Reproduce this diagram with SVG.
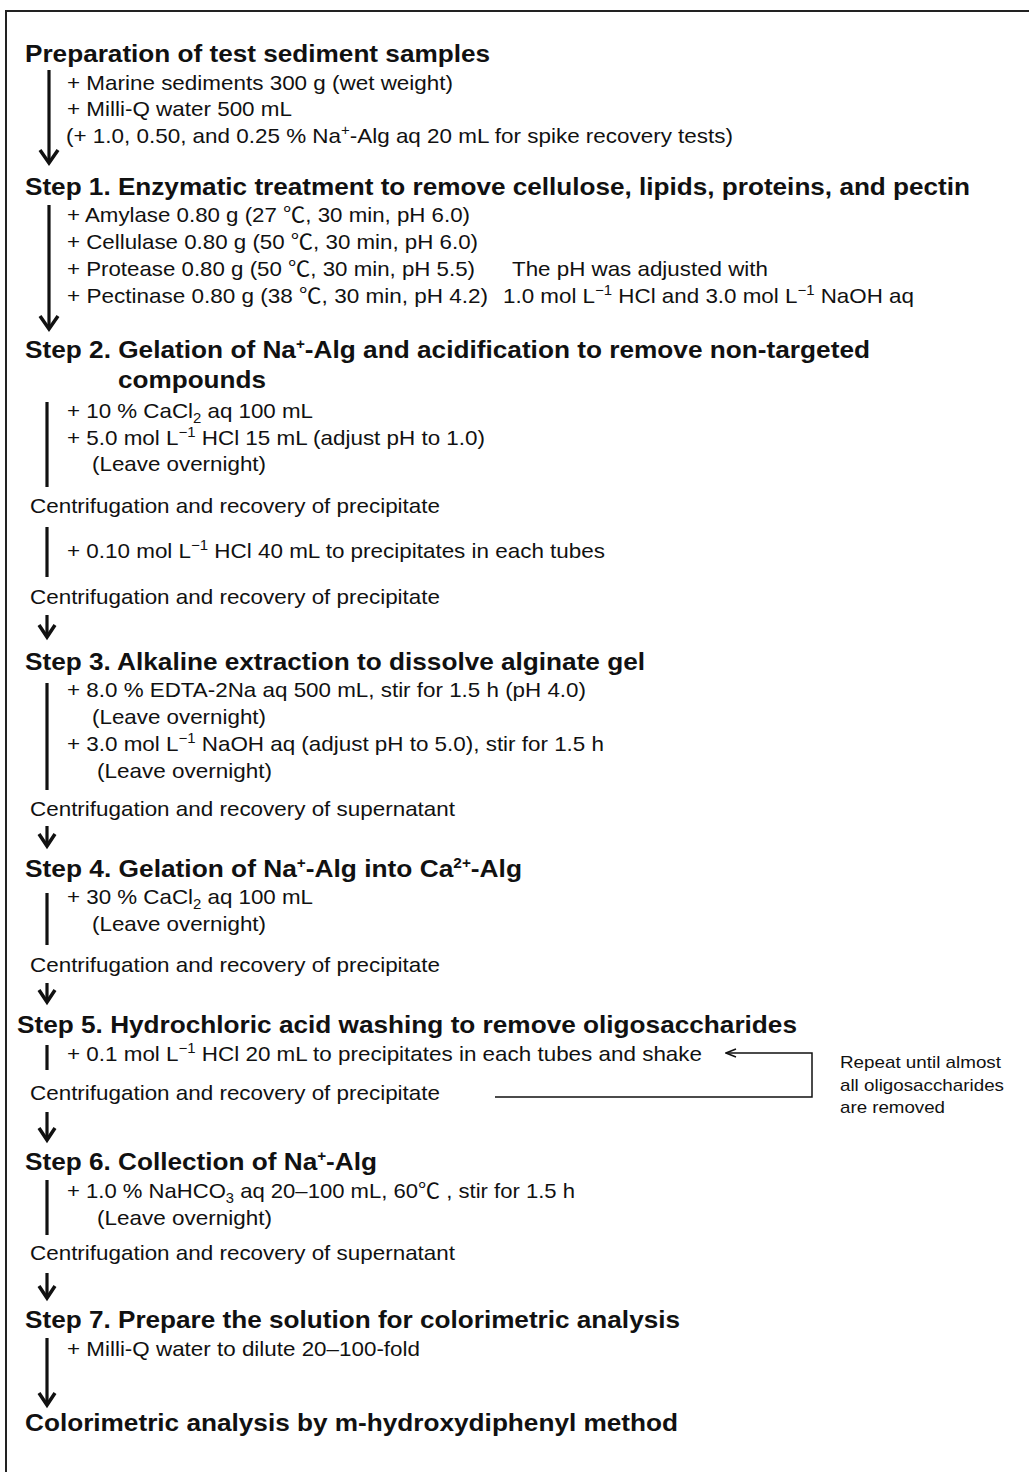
<svg xmlns="http://www.w3.org/2000/svg" width="1029" height="1472" viewBox="0 0 1029 1472">
<defs>
<style>
.h{font-family:"Liberation Sans",Arial,"Noto Sans CJK JP",sans-serif;font-weight:bold;font-size:24px;fill:#111}
.b{font-family:"Liberation Sans",Arial,"Noto Sans CJK JP",sans-serif;font-size:21px;fill:#111}
.n{font-family:"Liberation Sans",Arial,sans-serif;font-size:17px;fill:#111}
.sup{font-size:14px}
.bar{stroke:#111;stroke-width:3.2;fill:none}
.head{stroke:#111;stroke-width:3.5;fill:none;stroke-linejoin:miter;stroke-linecap:butt}
.thin{stroke:#111;stroke-width:1.5;fill:none}
</style>
<marker id="la" markerWidth="12" markerHeight="10" refX="11" refY="5" orient="auto" markerUnits="userSpaceOnUse">
<path d="M1,1 L11,5 L1,9" fill="none" stroke="#111" stroke-width="1.5"/>
</marker>
</defs>
<rect x="0" y="0" width="1029" height="1472" fill="#fff"/>
<rect x="6" y="11" width="1060" height="1500" fill="none" stroke="#222" stroke-width="2"/>

<g id="prep">
<text class="h" x="25" y="62" textLength="465" lengthAdjust="spacingAndGlyphs">Preparation of test sediment samples</text>
<text class="b" x="67" y="90" textLength="386" lengthAdjust="spacingAndGlyphs">+ Marine sediments 300 g (wet weight)</text>
<text class="b" x="67" y="116" textLength="225" lengthAdjust="spacingAndGlyphs">+ Milli-Q water 500 mL</text>
<text class="b" x="66" y="143" textLength="667" lengthAdjust="spacingAndGlyphs">(+ 1.0, 0.50, and 0.25 % Na<tspan class="sup" dy="-8">+</tspan><tspan dy="8">-Alg aq 20 mL for spike recovery tests)</tspan></text>
</g>

<g id="step1">
<text class="h" x="25" y="195" textLength="945" lengthAdjust="spacingAndGlyphs">Step 1. Enzymatic treatment to remove cellulose, lipids, proteins, and pectin</text>
<text class="b" x="67" y="222" textLength="403" lengthAdjust="spacingAndGlyphs">+ Amylase 0.80 g (27 ℃, 30 min, pH 6.0)</text>
<text class="b" x="67" y="249" textLength="411" lengthAdjust="spacingAndGlyphs">+ Cellulase 0.80 g (50 ℃, 30 min, pH 6.0)</text>
<text class="b" x="67" y="276" textLength="408" lengthAdjust="spacingAndGlyphs">+ Protease 0.80 g (50 ℃, 30 min, pH 5.5)</text>
<text class="b" x="67" y="303" textLength="421" lengthAdjust="spacingAndGlyphs">+ Pectinase 0.80 g (38 ℃, 30 min, pH 4.2)</text>
<text class="b" x="512" y="276" textLength="256" lengthAdjust="spacingAndGlyphs">The pH was adjusted with</text>
<text class="b" x="503" y="303" textLength="411" lengthAdjust="spacingAndGlyphs">1.0 mol L<tspan class="sup" dy="-8">−1</tspan><tspan dy="8"> HCl and 3.0 mol L</tspan><tspan class="sup" dy="-8">−1</tspan><tspan dy="8"> NaOH aq</tspan></text>
</g>

<g id="step2">
<text class="h" x="25" y="358" textLength="845" lengthAdjust="spacingAndGlyphs">Step 2. Gelation of Na<tspan class="sup" dy="-9">+</tspan><tspan dy="9">-Alg and acidification to remove non-targeted</tspan></text>
<text class="h" x="118" y="388" textLength="148" lengthAdjust="spacingAndGlyphs">compounds</text>
<text class="b" x="67" y="418" textLength="246" lengthAdjust="spacingAndGlyphs">+ 10 % CaCl<tspan class="sup" dy="5">2</tspan><tspan dy="-5"> aq 100 mL</tspan></text>
<text class="b" x="67" y="445" textLength="418" lengthAdjust="spacingAndGlyphs">+ 5.0 mol L<tspan class="sup" dy="-8">−1</tspan><tspan dy="8"> HCl 15 mL (adjust pH to 1.0)</tspan></text>
<text class="b" x="92" y="471" textLength="174" lengthAdjust="spacingAndGlyphs">(Leave overnight)</text>
<text class="b" x="30" y="513" textLength="410" lengthAdjust="spacingAndGlyphs">Centrifugation and recovery of precipitate</text>
<text class="b" x="67" y="558" textLength="538" lengthAdjust="spacingAndGlyphs">+ 0.10 mol L<tspan class="sup" dy="-8">−1</tspan><tspan dy="8"> HCl 40 mL to precipitates in each tubes</tspan></text>
<text class="b" x="30" y="604" textLength="410" lengthAdjust="spacingAndGlyphs">Centrifugation and recovery of precipitate</text>
</g>

<g id="step3">
<text class="h" x="25" y="670" textLength="620" lengthAdjust="spacingAndGlyphs">Step 3. Alkaline extraction to dissolve alginate gel</text>
<text class="b" x="67" y="697" textLength="519" lengthAdjust="spacingAndGlyphs">+ 8.0 % EDTA-2Na aq 500 mL, stir for 1.5 h (pH 4.0)</text>
<text class="b" x="92" y="724" textLength="174" lengthAdjust="spacingAndGlyphs">(Leave overnight)</text>
<text class="b" x="67" y="751" textLength="537" lengthAdjust="spacingAndGlyphs">+ 3.0 mol L<tspan class="sup" dy="-8">−1</tspan><tspan dy="8"> NaOH aq (adjust pH to 5.0), stir for 1.5 h</tspan></text>
<text class="b" x="97" y="778" textLength="175" lengthAdjust="spacingAndGlyphs">(Leave overnight)</text>
<text class="b" x="30" y="816" textLength="425" lengthAdjust="spacingAndGlyphs">Centrifugation and recovery of supernatant</text>
</g>

<g id="step4">
<text class="h" x="25" y="877" textLength="497" lengthAdjust="spacingAndGlyphs">Step 4. Gelation of Na<tspan class="sup" dy="-9">+</tspan><tspan dy="9">-Alg into Ca</tspan><tspan class="sup" dy="-9">2+</tspan><tspan dy="9">-Alg</tspan></text>
<text class="b" x="67" y="904" textLength="246" lengthAdjust="spacingAndGlyphs">+ 30 % CaCl<tspan class="sup" dy="5">2</tspan><tspan dy="-5"> aq 100 mL</tspan></text>
<text class="b" x="92" y="931" textLength="174" lengthAdjust="spacingAndGlyphs">(Leave overnight)</text>
<text class="b" x="30" y="972" textLength="410" lengthAdjust="spacingAndGlyphs">Centrifugation and recovery of precipitate</text>
</g>

<g id="step5">
<text class="h" x="17" y="1033" textLength="780" lengthAdjust="spacingAndGlyphs">Step 5. Hydrochloric acid washing to remove oligosaccharides</text>
<text class="b" x="67" y="1061" textLength="635" lengthAdjust="spacingAndGlyphs">+ 0.1 mol L<tspan class="sup" dy="-8">−1</tspan><tspan dy="8"> HCl 20 mL to precipitates in each tubes and shake</tspan></text>
<text class="b" x="30" y="1100" textLength="410" lengthAdjust="spacingAndGlyphs">Centrifugation and recovery of precipitate</text>
</g>

<g id="repeat-note">
<text class="n" x="840" y="1068" textLength="161" lengthAdjust="spacingAndGlyphs">Repeat until almost</text>
<text class="n" x="840" y="1091" textLength="164" lengthAdjust="spacingAndGlyphs">all oligosaccharides</text>
<text class="n" x="840" y="1113" textLength="105" lengthAdjust="spacingAndGlyphs">are removed</text>
</g>

<g id="step6">
<text class="h" x="25" y="1170" textLength="352" lengthAdjust="spacingAndGlyphs">Step 6. Collection of Na<tspan class="sup" dy="-9">+</tspan><tspan dy="9">-Alg</tspan></text>
<text class="b" x="67" y="1198" textLength="508" lengthAdjust="spacingAndGlyphs">+ 1.0 % NaHCO<tspan class="sup" dy="5">3</tspan><tspan dy="-5"> aq 20–100 mL, 60℃ , stir for 1.5 h</tspan></text>
<text class="b" x="97" y="1225" textLength="175" lengthAdjust="spacingAndGlyphs">(Leave overnight)</text>
<text class="b" x="30" y="1260" textLength="425" lengthAdjust="spacingAndGlyphs">Centrifugation and recovery of supernatant</text>
</g>

<g id="step7">
<text class="h" x="25" y="1328" textLength="655" lengthAdjust="spacingAndGlyphs">Step 7. Prepare the solution for colorimetric analysis</text>
<text class="b" x="67" y="1356" textLength="353" lengthAdjust="spacingAndGlyphs">+ Milli-Q water to dilute 20–100-fold</text>
</g>

<g id="final">
<text class="h" x="25" y="1431" textLength="653" lengthAdjust="spacingAndGlyphs">Colorimetric analysis by m-hydroxydiphenyl method</text>
</g>

<g id="connectors">
<line class="bar" x1="49" y1="70" x2="49" y2="162"/>
<polyline class="head" points="40,150 49,163 58,150"/>
<line class="bar" x1="49" y1="205" x2="49" y2="328"/>
<polyline class="head" points="40,316 49,329 58,316"/>
<line class="bar" x1="47" y1="402" x2="47" y2="487"/>
<line class="bar" x1="47" y1="527" x2="47" y2="577"/>
<line class="bar" x1="47" y1="615" x2="47" y2="636"/>
<polyline class="head" points="39,625 47,637 55,625"/>
<line class="bar" x1="47" y1="683" x2="47" y2="790"/>
<line class="bar" x1="47" y1="826" x2="47" y2="845"/>
<polyline class="head" points="39,834 47,846 55,834"/>
<line class="bar" x1="47" y1="893" x2="47" y2="945"/>
<line class="bar" x1="47" y1="983" x2="47" y2="1001"/>
<polyline class="head" points="39,990 47,1002 55,990"/>
<line class="bar" x1="47" y1="1045" x2="47" y2="1070"/>
<polyline class="thin" points="495,1097 812,1097 812,1053 726,1053" marker-end="url(#la)"/>
<line class="bar" x1="47" y1="1112" x2="47" y2="1139"/>
<polyline class="head" points="39,1128 47,1140 55,1128"/>
<line class="bar" x1="47" y1="1180" x2="47" y2="1235"/>
<line class="bar" x1="47" y1="1273" x2="47" y2="1297"/>
<polyline class="head" points="39,1286 47,1298 55,1286"/>
<line class="bar" x1="47" y1="1338" x2="47" y2="1404"/>
<polyline class="head" points="39,1393 47,1405 55,1393"/>
</g>
</svg>
